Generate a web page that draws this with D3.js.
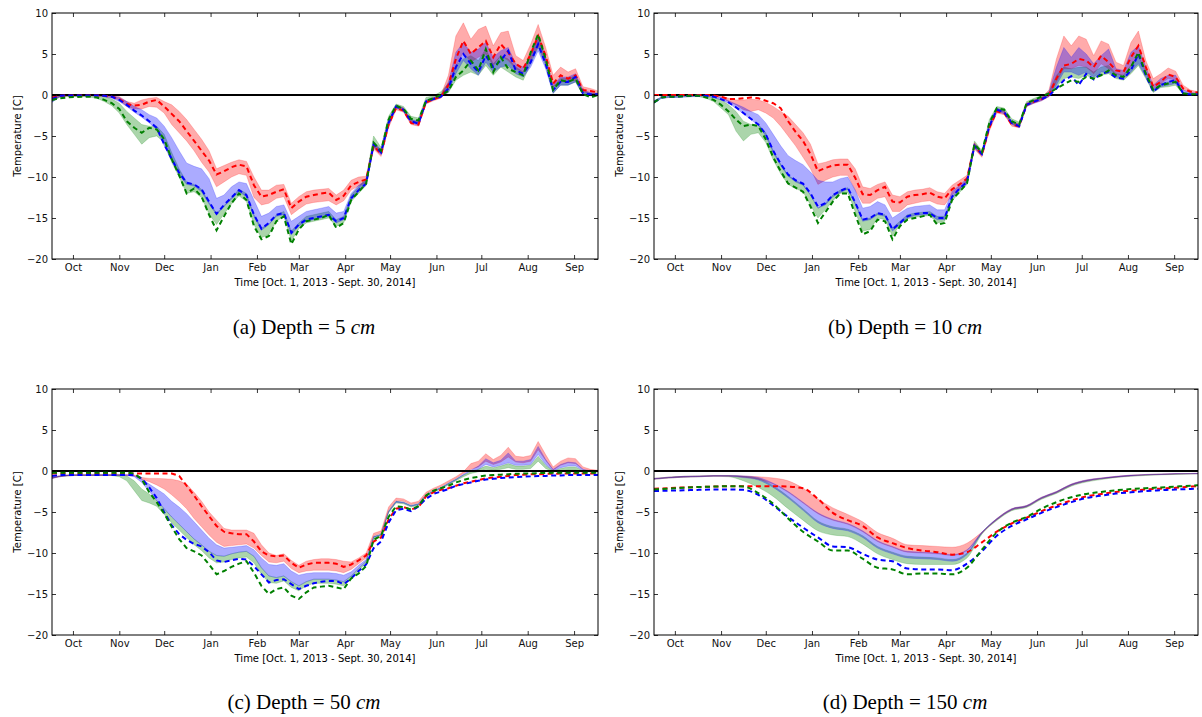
<!DOCTYPE html>
<html>
<head>
<meta charset="utf-8">
<script src="https://cdn.jsdelivr.net/npm/d3@7"></script>
<style>
  body { margin: 0; background: #fff; }
  svg { display: block; }
  .caption { font-family: "Liberation Serif", "Times New Roman", serif; font-size: 21px; white-space: pre; }
  .axisLabel { font-family: "DejaVu Sans", sans-serif; font-size: 10px; }
</style>
</head>
<body>
<svg id="figure" width="1202" height="717"></svg>
<script>
// day offsets from Oct 1, 2013
var days5 = [0,5,10,15,20,25,30,35,40,45,50,55,60,65,70,75,80,85,90,95,100,105,110,115,120,125,130,135,140,145,
  150,155,160,165,170,175,180,185,190,195,200,205,210,215,220,225,230,235,240,245,250,255,260,265,270,275,280,285,290,295,
  300,305,310,315,320,325,330,335,340,345,350,355,360,365];
var days10 = [0,10,20,30,40,50,60,70,80,90,100,110,120,130,140,150,160,170,180,190,200,210,220,230,240,250,260,270,280,290,
  300,310,320,330,340,350,360,365];

var tickMonths = ["Oct","Nov","Dec","Jan","Feb","Mar","Apr","May","Jun","Jul","Aug","Sep"];
var yTicks = [-20, -15, -10, -5, 0, 5, 10];

// ---- depth 5 cm ----
var d5RedDash = [-0.3,-0.1,-0.05,-0.05,-0.05,-0.05,-0.05,-0.1,-0.2,-0.5,
  -1.1,-1.3,-1.2,-0.8,-0.6,-1.4,-2.3,-3.2,-4.4,-5.6,
  -6.8,-8.0,-9.7,-9.3,-8.8,-8.5,-8.7,-11.0,-12.4,-12.2,
  -11.8,-11.5,-13.8,-13.0,-12.4,-12.2,-12.0,-11.9,-12.8,-12.3,
  -11.0,-10.6,-10.3,-6.2,-7.2,-3.6,-1.6,-1.9,-3.4,-3.6,
  -0.9,-0.5,-0.2,1.2,4.4,6.6,5.0,5.8,6.6,4.6,
  6.2,5.2,3.8,3.2,5.0,7.2,4.8,1.4,2.4,2.0,
  2.4,0.6,0.5,0.3];
var d5RedLo = [-0.6,-0.2,-0.1,-0.1,-0.1,-0.1,-0.1,-0.2,-0.3,-0.6,
  -1.4,-1.7,-1.7,-1.4,-1.5,-2.2,-3.6,-4.6,-5.6,-6.8,
  -8.2,-9.4,-11.2,-10.6,-10.0,-9.6,-9.8,-12.5,-13.4,-13.2,
  -12.6,-12.4,-14.6,-13.9,-13.3,-13.1,-13.0,-12.9,-13.4,-12.9,
  -11.6,-11.1,-10.7,-6.6,-7.5,-4.0,-1.8,-2.1,-3.6,-3.8,
  -1.1,-0.7,-0.4,0.6,3.4,5.2,4.0,4.6,5.0,3.6,
  4.8,4.2,3.2,2.8,4.2,6.0,4.0,1.0,1.6,1.6,
  1.8,0.4,0.2,0.1];
var d5RedHi = [-0.1,0,0,0,0,0,0,0,-0.05,-0.2,
  -0.8,-1.0,-0.6,-0.4,-0.3,-0.8,-1.2,-2.0,-3.0,-4.2,
  -5.4,-6.8,-9.0,-8.6,-8.2,-7.9,-8.1,-10.0,-11.6,-11.6,
  -11.0,-10.9,-13.2,-12.4,-11.8,-11.6,-11.5,-11.4,-12.2,-11.6,
  -10.4,-10.0,-9.9,-5.8,-6.8,-3.2,-1.3,-1.6,-3.1,-3.3,
  -0.7,-0.3,0.0,2.4,7.2,8.8,6.8,8.0,8.4,6.0,
  7.6,7.8,4.8,4.2,6.2,8.6,5.8,2.4,3.4,2.8,
  3.2,1.0,0.8,0.5];
var d5BlueDash = [-0.5,-0.1,-0.05,-0.05,-0.05,-0.05,-0.05,-0.1,-0.2,-0.6,
  -1.2,-1.9,-2.5,-3.2,-4.0,-6.0,-7.8,-9.5,-10.7,-10.9,
  -11.5,-13.0,-14.5,-13.4,-12.5,-11.6,-12.2,-14.6,-16.3,-15.6,
  -14.6,-14.4,-16.8,-15.8,-15.2,-15.0,-14.8,-14.6,-15.4,-15.0,
  -12.6,-11.6,-10.8,-6.0,-7.0,-3.4,-1.4,-1.8,-3.2,-3.5,
  -0.8,-0.5,-0.2,0.8,3.4,5.0,3.8,2.8,4.8,3.4,
  4.2,5.4,3.0,2.6,4.0,6.2,3.8,0.6,1.6,1.6,
  2.2,0.2,0.1,0.1];
var d5BlueLo = [-0.9,-0.2,-0.1,-0.1,-0.1,-0.1,-0.1,-0.2,-0.4,-0.8,
  -1.4,-2.1,-2.7,-3.4,-4.2,-6.2,-8.0,-9.7,-10.9,-11.1,
  -11.8,-13.3,-14.6,-13.6,-12.7,-11.8,-12.4,-14.8,-16.5,-15.8,
  -14.8,-14.6,-17.0,-16.0,-15.4,-15.2,-15.0,-14.8,-15.6,-15.2,
  -12.8,-11.8,-11.0,-6.4,-7.3,-3.8,-1.6,-2.0,-3.4,-3.7,
  -1.0,-0.6,-0.3,0.4,2.6,4.2,3.2,2.4,4.0,2.8,
  3.4,3.6,2.6,2.2,3.4,5.4,3.2,0.2,1.2,1.2,
  1.6,0.0,0.0,0.0];
var d5BlueHi = [-0.2,0,0,0,0,0,0,0,-0.1,-0.3,
  -0.8,-1.4,-1.8,-2.4,-2.8,-3.8,-5.2,-6.8,-8.3,-8.7,
  -9.0,-10.2,-12.6,-12.2,-11.2,-10.6,-10.8,-12.8,-14.8,-14.4,
  -13.6,-13.4,-15.4,-14.8,-14.2,-14.0,-13.8,-13.6,-14.4,-14.2,
  -12.0,-11.0,-10.4,-5.7,-6.7,-3.0,-1.2,-1.6,-3.0,-3.2,
  -0.6,-0.3,0.0,1.6,5.2,6.4,5.2,5.6,6.4,4.6,
  5.4,5.8,3.8,3.4,4.8,7.0,4.6,1.2,2.2,2.2,
  2.6,0.6,0.3,0.2];
var d5GreenDash = [-0.6,-0.4,-0.3,-0.25,-0.2,-0.2,-0.3,-0.6,-1.0,-1.7,
  -3.2,-4.0,-4.6,-4.0,-4.2,-5.4,-7.8,-9.8,-12.0,-11.4,
  -12.4,-14.6,-16.5,-14.8,-13.2,-12.0,-12.8,-16.0,-17.6,-17.2,
  -15.4,-14.8,-18.2,-16.4,-15.4,-15.2,-15.0,-14.6,-16.2,-15.6,
  -12.8,-11.8,-10.8,-5.8,-6.8,-3.0,-1.3,-1.7,-2.9,-3.1,
  -0.7,-0.4,0.0,0.5,2.2,3.0,4.2,3.0,5.6,2.8,
  4.6,3.2,2.8,2.4,5.2,7.4,4.4,0.6,1.8,1.6,
  2.0,0.1,-0.3,0.0];
var d5GreenLo = [-0.8,-0.3,-0.2,-0.2,-0.2,-0.25,-0.4,-0.8,-1.3,-2.2,
  -3.6,-4.8,-6.0,-5.2,-5.0,-5.8,-8.2,-10.0,-12.0,-11.8,
  -12.5,-14.5,-15.8,-14.5,-13.3,-12.3,-13.0,-15.8,-17.4,-17.0,
  -15.4,-14.8,-17.8,-16.3,-15.6,-15.4,-15.2,-15.0,-16.0,-15.6,
  -13.0,-12.0,-11.0,-6.3,-7.1,-3.5,-1.5,-1.9,-3.2,-3.4,
  -0.9,-0.6,-0.2,0.3,1.8,2.4,2.8,2.4,3.6,2.4,
  3.4,2.8,2.2,1.8,3.8,5.8,3.6,0.2,1.2,1.2,
  1.6,0.0,-0.1,-0.1];
var d5GreenHi = [-0.2,-0.05,0,0,0,0,-0.1,-0.2,-0.5,-1.0,
  -2.0,-2.8,-3.6,-3.8,-3.8,-4.8,-7.0,-9.0,-10.6,-10.9,
  -11.5,-13.1,-14.4,-13.5,-12.5,-11.5,-12.0,-14.6,-16.2,-15.8,
  -14.6,-14.2,-16.6,-15.6,-14.8,-14.6,-14.4,-14.2,-15.2,-14.8,
  -12.2,-11.2,-10.2,-5.0,-6.4,-2.6,-1.1,-1.4,-2.6,-2.8,
  -0.3,-0.1,0.4,1.4,3.6,4.4,4.8,4.2,5.6,3.8,
  4.8,4.4,3.4,2.8,5.0,7.4,4.6,1.0,2.0,2.0,
  2.4,0.4,0.2,0.2];

// ---- depth 10 cm ----
var d10RedDash = [0,0,0,0,0,0,0,0,-0.05,-0.2,
  -0.5,-0.5,-0.4,-0.3,-0.4,-0.7,-1.0,-1.6,-3.2,-4.5,
  -5.6,-7.2,-9.3,-8.9,-8.6,-8.5,-8.5,-10.1,-12.1,-12.2,
  -11.6,-11.2,-13.0,-13.1,-12.4,-12.2,-12.1,-11.9,-12.4,-12.6,
  -11.5,-10.9,-10.2,-6.2,-7.3,-4.0,-2.0,-2.2,-3.6,-3.8,
  -1.2,-0.8,-0.5,0.0,2.0,3.6,3.8,4.4,4.2,3.4,
  4.8,4.0,3.0,2.8,4.6,6.0,3.4,1.0,1.6,2.5,
  2.2,0.8,0.4,0.3];
var d10RedLo = [-0.1,-0.05,-0.05,-0.05,-0.05,-0.05,-0.05,-0.05,-0.1,-0.3,
  -0.8,-1.2,-1.8,-2.0,-1.8,-2.2,-2.8,-3.8,-5.0,-6.2,
  -7.6,-9.0,-10.9,-10.4,-10.0,-9.8,-9.8,-11.6,-13.2,-13.2,
  -12.6,-12.4,-14.2,-14.2,-13.4,-13.2,-13.0,-12.9,-13.3,-13.4,
  -12.2,-11.4,-10.6,-6.6,-7.6,-4.4,-2.2,-2.4,-3.8,-4.0,
  -1.4,-1.0,-0.7,-0.2,1.6,3.2,3.2,3.6,3.4,2.6,
  3.8,3.2,2.6,2.4,3.6,4.8,2.8,0.8,1.4,2.0,
  1.8,0.6,0.3,0.2];
var d10RedHi = [0,0,0,0,0,0,0,0,0,-0.1,
  -0.4,-0.6,-0.6,-0.5,-0.6,-0.9,-1.4,-2.0,-2.6,-3.6,
  -4.6,-6.0,-8.4,-8.2,-7.9,-7.8,-7.8,-9.0,-11.2,-11.4,
  -10.9,-10.6,-12.2,-12.4,-11.8,-11.6,-11.5,-11.3,-11.8,-12.0,
  -11.0,-10.4,-9.8,-5.8,-7.0,-3.6,-1.7,-1.9,-3.3,-3.5,
  -1.0,-0.6,-0.3,0.6,4.4,7.2,6.0,7.2,6.8,4.8,
  6.6,6.2,4.0,3.6,6.4,7.8,4.2,2.0,2.6,3.3,
  2.9,1.2,0.6,0.4];
var d10BlueDash = [-0.9,-0.3,-0.2,-0.2,-0.15,-0.1,-0.1,-0.1,-0.2,-0.5,
  -0.9,-1.5,-2.2,-2.9,-3.6,-4.8,-6.8,-8.4,-9.7,-10.4,
  -10.8,-12.0,-13.6,-13.2,-12.2,-11.7,-11.3,-13.1,-15.2,-15.0,
  -14.4,-14.6,-16.4,-15.6,-14.8,-14.5,-14.4,-14.4,-15.0,-15.0,
  -12.4,-11.4,-10.6,-6.2,-7.2,-3.8,-1.8,-2.1,-3.4,-3.8,
  -1.2,-0.8,-0.5,-0.1,0.8,1.8,2.3,1.2,2.6,1.9,
  2.6,2.8,2.1,2.0,3.0,5.0,2.4,0.4,1.2,1.6,
  1.8,0.2,0.05,0.05];
var d10BlueLo = [-1.0,-0.4,-0.3,-0.3,-0.25,-0.2,-0.15,-0.15,-0.3,-0.6,
  -1.0,-1.6,-2.3,-3.0,-3.7,-5.0,-7.0,-8.6,-9.9,-10.6,
  -11.0,-12.2,-13.8,-13.4,-12.4,-11.9,-11.5,-13.3,-15.4,-15.2,
  -14.6,-14.8,-16.6,-15.8,-15.0,-14.7,-14.6,-14.6,-15.2,-15.2,
  -12.6,-11.6,-10.8,-6.5,-7.4,-4.1,-2.0,-2.3,-3.6,-4.0,
  -1.4,-1.0,-0.7,-0.2,1.2,2.8,2.8,2.4,2.8,2.2,
  2.8,2.8,2.2,2.0,2.8,3.8,2.2,0.4,1.0,1.2,
  1.4,0.2,0.0,0.0];
var d10BlueHi = [-0.7,-0.25,-0.15,-0.1,-0.05,-0.05,-0.05,-0.05,-0.1,-0.3,
  -0.7,-1.1,-1.5,-2.0,-2.4,-3.4,-4.8,-6.2,-7.4,-8.0,
  -8.5,-9.4,-10.4,-10.6,-10.6,-10.2,-10.0,-11.6,-13.8,-13.6,
  -13.0,-13.4,-15.0,-14.4,-13.8,-13.6,-13.5,-13.4,-14.0,-14.0,
  -11.8,-11.0,-10.2,-5.9,-7.0,-3.5,-1.6,-1.9,-3.2,-3.6,
  -1.0,-0.6,-0.3,0.4,3.4,5.8,4.6,5.8,5.0,3.8,
  4.8,5.6,3.2,3.0,5.2,6.0,3.4,1.2,2.0,2.4,
  2.4,0.6,0.3,0.2];
var d10GreenDash = [-0.9,-0.3,-0.2,-0.2,-0.15,-0.1,-0.1,-0.3,-0.6,-1.2,
  -2.0,-3.0,-3.8,-3.6,-3.8,-5.4,-7.6,-9.3,-10.8,-11.3,
  -11.8,-13.6,-15.6,-14.3,-13.0,-12.0,-12.0,-14.6,-17.0,-16.6,
  -15.2,-15.4,-17.6,-16.0,-15.2,-15.0,-14.8,-14.6,-15.8,-15.6,
  -12.8,-11.8,-10.8,-6.0,-7.0,-3.4,-1.6,-1.8,-3.2,-3.6,
  -1.0,-0.6,-0.2,0.2,0.8,1.3,1.8,1.6,2.2,2.0,
  2.4,3.0,2.4,2.2,3.4,5.2,2.6,0.6,1.2,1.4,
  1.6,0.2,0.1,0.1];
var d10GreenLo = [-1.0,-0.4,-0.3,-0.3,-0.25,-0.2,-0.2,-0.4,-0.8,-1.6,
  -2.4,-4.4,-5.6,-4.8,-4.6,-5.8,-7.9,-9.6,-10.9,-11.4,
  -11.8,-13.4,-15.0,-14.0,-12.9,-12.0,-11.9,-14.2,-16.6,-16.4,
  -15.0,-15.2,-17.2,-15.8,-15.1,-14.9,-14.8,-14.7,-15.6,-15.4,
  -12.9,-11.9,-10.9,-6.4,-7.3,-3.8,-1.9,-2.1,-3.5,-3.9,
  -1.3,-0.9,-0.5,-0.1,1.0,2.0,2.2,2.0,2.4,2.0,
  2.4,2.6,2.0,1.8,2.6,3.6,2.0,0.3,0.9,1.0,
  1.2,0.1,0.0,0.0];
var d10GreenHi = [-0.7,-0.25,-0.15,-0.1,-0.05,-0.05,-0.05,-0.1,-0.3,-0.6,
  -1.2,-2.0,-3.2,-3.6,-3.6,-4.6,-6.8,-8.4,-9.8,-10.4,
  -10.9,-12.2,-13.8,-13.2,-12.2,-11.6,-11.3,-13.2,-15.2,-15.0,
  -14.4,-14.6,-16.2,-15.4,-14.6,-14.4,-14.3,-14.2,-14.8,-14.8,
  -12.4,-11.4,-10.4,-5.6,-6.8,-3.0,-1.4,-1.6,-2.9,-3.3,
  -0.8,-0.4,-0.1,0.3,2.4,3.4,3.2,3.4,3.4,2.8,
  3.4,3.6,2.6,2.4,3.6,4.8,2.8,0.7,1.4,1.6,
  1.8,0.3,0.2,0.1];

// ---- depth 50 cm ----
var d50RedDash = [-0.3,-0.3,-0.3,-0.3,-0.3,-0.3,-0.3,-0.3,-0.3,-0.3,
  -0.3,-0.3,-0.3,-0.3,-0.3,-0.3,-0.3,-0.6,-1.8,-3.0,
  -4.3,-5.5,-6.7,-7.4,-7.6,-7.7,-7.7,-8.6,-9.8,-10.3,
  -10.4,-10.3,-11.2,-11.8,-11.4,-11.2,-11.2,-11.2,-11.3,-11.7,
  -11.4,-10.9,-10.3,-8.6,-8.1,-5.9,-4.6,-4.4,-4.7,-4.4,
  -3.1,-2.6,-2.3,-2.1,-1.8,-1.5,-1.3,-1.1,-0.9,-0.8,
  -0.7,-0.6,-0.5,-0.45,-0.4,-0.4,-0.35,-0.35,-0.3,-0.3,
  -0.3,-0.3,-0.3,-0.3];
var d50RedLo = [-0.9,-0.7,-0.6,-0.55,-0.55,-0.55,-0.55,-0.55,-0.55,-0.55,
  -0.55,-0.6,-1.0,-1.3,-1.7,-2.2,-2.9,-3.7,-4.6,-5.8,
  -6.8,-7.8,-8.7,-9.2,-9.1,-9.0,-8.9,-9.4,-10.3,-11.1,
  -11.2,-11.0,-11.9,-12.4,-12.2,-12.1,-12.1,-12.1,-12.2,-12.4,
  -12.0,-11.3,-10.6,-7.9,-7.6,-4.8,-3.6,-3.7,-4.1,-3.9,
  -2.8,-2.3,-1.9,-1.4,-0.9,-0.3,0.2,0.5,1.2,0.8,
  1.1,1.7,1.1,1.0,1.2,2.6,1.3,0.1,0.7,1.0,
  0.9,0.2,0.05,0.0];
var d50RedHi = [-0.75,-0.6,-0.5,-0.45,-0.45,-0.45,-0.45,-0.45,-0.45,-0.45,
  -0.45,-0.5,-0.8,-0.9,-0.9,-0.95,-1.0,-1.2,-1.6,-2.6,
  -3.7,-5.0,-6.0,-7.0,-7.2,-7.2,-7.2,-7.6,-9.0,-10.0,
  -10.3,-10.1,-10.9,-11.5,-11.0,-10.8,-10.7,-10.7,-10.8,-11.0,
  -11.1,-10.6,-10.0,-7.6,-7.3,-4.4,-3.3,-3.4,-3.9,-3.7,
  -2.6,-2.1,-1.7,-1.2,-0.7,-0.1,0.9,1.2,2.1,1.4,
  1.9,2.9,1.8,1.7,1.9,3.6,2.0,0.5,1.2,1.6,
  1.5,0.5,0.2,0.1];
var d50BlueDash = [-0.6,-0.5,-0.5,-0.5,-0.5,-0.5,-0.5,-0.5,-0.5,-0.5,
  -0.5,-0.5,-0.9,-2.0,-3.3,-5.0,-6.6,-7.7,-8.4,-8.9,
  -9.2,-9.9,-10.9,-11.1,-10.9,-10.7,-10.8,-11.6,-12.6,-13.6,
  -13.3,-13.2,-13.8,-14.4,-14.0,-13.7,-13.5,-13.4,-13.4,-13.8,
  -13.1,-12.2,-11.4,-9.4,-8.6,-6.3,-4.8,-4.6,-4.9,-4.3,
  -3.4,-2.8,-2.5,-2.2,-1.8,-1.6,-1.4,-1.2,-1.05,-0.95,
  -0.85,-0.8,-0.75,-0.7,-0.65,-0.6,-0.6,-0.55,-0.55,-0.5,
  -0.5,-0.5,-0.5,-0.5];
var d50BlueLo = [-0.9,-0.7,-0.6,-0.55,-0.55,-0.55,-0.55,-0.55,-0.55,-0.55,
  -0.55,-0.7,-1.4,-2.5,-3.6,-4.6,-5.6,-6.5,-7.4,-8.3,
  -9.0,-9.8,-10.3,-10.4,-10.1,-9.9,-9.8,-10.4,-11.8,-12.8,
  -13.0,-12.8,-13.5,-14.0,-13.5,-13.2,-13.2,-13.2,-13.3,-13.5,
  -12.8,-11.9,-11.0,-8.1,-7.8,-5.0,-3.8,-3.9,-4.3,-4.1,
  -3.0,-2.5,-2.1,-1.6,-1.1,-0.5,0.0,0.2,0.8,0.5,
  0.7,1.0,0.7,0.7,0.8,2.0,0.8,0.0,0.4,0.6,
  0.6,0.05,0.0,0.0];
var d50BlueHi = [-0.75,-0.6,-0.5,-0.45,-0.45,-0.45,-0.45,-0.45,-0.45,-0.45,
  -0.45,-0.6,-1.0,-1.6,-2.2,-2.8,-3.7,-4.4,-5.2,-6.2,
  -7.2,-8.2,-9.0,-9.4,-9.3,-9.2,-9.1,-9.6,-10.6,-11.4,
  -11.5,-11.3,-12.2,-12.7,-12.5,-12.4,-12.4,-12.4,-12.5,-12.7,
  -12.3,-11.5,-10.8,-8.0,-7.7,-4.9,-3.7,-3.8,-4.2,-4.0,
  -2.9,-2.4,-2.0,-1.5,-1.0,-0.4,0.1,0.6,1.5,1.0,
  1.3,2.2,1.2,1.2,1.4,3.0,1.4,0.2,0.8,1.1,
  1.0,0.2,0.0,0.0];
var d50GreenDash = [-0.2,-0.2,-0.2,-0.2,-0.2,-0.2,-0.2,-0.2,-0.2,-0.2,
  -0.2,-0.3,-1.0,-2.6,-3.8,-5.2,-6.8,-8.3,-9.4,-9.8,
  -10.3,-11.4,-12.6,-12.2,-11.7,-11.3,-11.0,-12.4,-14.0,-15.0,
  -14.4,-14.2,-15.2,-15.6,-14.8,-14.2,-14.1,-14.0,-14.2,-14.4,
  -13.1,-12.5,-11.6,-8.4,-7.9,-5.6,-4.3,-4.4,-4.7,-4.3,
  -3.0,-2.4,-2.1,-1.8,-1.4,-1.1,-0.85,-0.7,-0.55,-0.5,
  -0.45,-0.4,-0.35,-0.3,-0.3,-0.25,-0.25,-0.2,-0.2,-0.2,
  -0.2,-0.2,-0.2,-0.2];
var d50GreenLo = [-0.9,-0.7,-0.6,-0.55,-0.55,-0.55,-0.55,-0.55,-0.55,-0.7,
  -1.2,-2.4,-3.6,-3.9,-4.3,-5.3,-6.3,-7.2,-8.1,-9.0,
  -9.7,-10.6,-11.2,-11.1,-10.8,-10.6,-10.5,-11.2,-12.6,-13.6,
  -13.7,-13.4,-14.2,-14.6,-14.0,-13.7,-13.7,-13.7,-13.8,-14.0,
  -13.2,-12.2,-11.2,-8.3,-7.9,-5.1,-3.9,-4.0,-4.4,-4.2,
  -3.1,-2.6,-2.2,-1.7,-1.2,-0.7,-0.3,-0.1,0.2,0.1,
  0.2,0.4,0.2,0.2,0.3,1.2,0.3,-0.1,0.0,0.1,
  0.1,-0.1,-0.1,-0.1];
var d50GreenHi = [-0.75,-0.6,-0.5,-0.45,-0.45,-0.45,-0.45,-0.45,-0.45,-0.45,
  -0.6,-1.2,-2.2,-2.8,-3.6,-4.6,-5.6,-6.5,-7.4,-8.3,
  -9.0,-9.8,-10.3,-10.4,-10.1,-9.9,-9.8,-10.4,-11.8,-12.8,
  -13.0,-12.8,-13.5,-14.0,-13.5,-13.2,-13.2,-13.2,-13.3,-13.5,
  -12.8,-11.9,-11.0,-8.0,-7.7,-4.9,-3.7,-3.8,-4.2,-4.0,
  -2.9,-2.4,-2.0,-1.5,-1.0,-0.5,-0.1,0.2,0.6,0.4,
  0.6,0.9,0.6,0.6,0.7,1.8,0.7,0.0,0.3,0.5,
  0.5,0.0,0.0,0.0];

// ---- depth 150 cm (10 day steps) ----
var d150RedDash = [-2.15,-2.1,-2.0,-1.95,-1.9,-1.85,-1.85,-1.85,-1.85,-1.9,
  -2.1,-3.4,-5.1,-6.0,-6.7,-8.1,-8.8,-9.4,-9.7,-9.9,
  -10.2,-9.9,-8.7,-7.4,-6.4,-5.7,-4.9,-4.2,-3.6,-3.1,
  -2.8,-2.55,-2.4,-2.25,-2.15,-2.05,-1.9,-1.85];
var d150RedLo = [-1.0,-0.85,-0.75,-0.7,-0.65,-0.65,-0.75,-1.0,-1.6,-2.6,
  -3.9,-5.2,-6.0,-6.5,-7.4,-8.6,-9.3,-9.9,-10.0,-10.1,
  -10.3,-9.7,-7.6,-5.95,-4.75,-4.35,-3.35,-2.65,-1.75,-1.25,
  -0.95,-0.75,-0.6,-0.5,-0.43,-0.38,-0.35,-0.33];
var d150RedHi = [-0.9,-0.75,-0.65,-0.6,-0.55,-0.55,-0.6,-0.7,-0.85,-1.2,
  -2.1,-3.4,-4.5,-5.3,-6.2,-7.5,-8.2,-9.0,-9.1,-9.2,
  -9.3,-8.8,-7.45,-5.8,-4.6,-4.2,-3.2,-2.5,-1.6,-1.1,
  -0.85,-0.65,-0.5,-0.42,-0.36,-0.32,-0.3,-0.28];
var d150BlueDash = [-2.45,-2.4,-2.35,-2.3,-2.25,-2.25,-2.3,-2.9,-4.2,-5.6,
  -6.9,-8.1,-9.2,-9.3,-10.1,-10.8,-11.0,-11.9,-12.0,-12.0,
  -12.1,-11.3,-9.8,-7.9,-6.7,-5.9,-5.1,-4.4,-3.8,-3.3,
  -3.0,-2.75,-2.6,-2.45,-2.35,-2.25,-2.2,-2.15];
var d150BlueLo = [-1.0,-0.85,-0.75,-0.7,-0.65,-0.65,-0.8,-1.1,-2.0,-3.3,
  -4.8,-6.3,-7.0,-7.3,-8.1,-9.4,-10.1,-10.6,-10.7,-10.8,
  -11.0,-10.2,-7.6,-5.95,-4.75,-4.35,-3.35,-2.65,-1.75,-1.25,
  -0.95,-0.75,-0.6,-0.5,-0.43,-0.38,-0.35,-0.33];
var d150BlueHi = [-0.9,-0.75,-0.65,-0.6,-0.55,-0.55,-0.6,-0.8,-1.5,-2.5,
  -3.8,-5.1,-5.9,-6.4,-7.3,-8.5,-9.2,-9.8,-9.9,-10.0,
  -10.2,-9.6,-7.45,-5.8,-4.6,-4.2,-3.2,-2.5,-1.6,-1.1,
  -0.85,-0.65,-0.5,-0.42,-0.36,-0.32,-0.3,-0.28];
var d150GreenDash = [-2.25,-2.15,-2.05,-1.95,-1.9,-1.85,-1.9,-2.7,-4.0,-5.8,
  -7.4,-8.6,-9.7,-9.7,-10.7,-11.8,-12.0,-12.6,-12.5,-12.5,
  -12.6,-11.8,-9.6,-7.5,-6.3,-5.6,-4.6,-3.8,-3.2,-2.8,
  -2.55,-2.35,-2.2,-2.1,-2.0,-1.9,-1.8,-1.75];
var d150GreenLo = [-1.0,-0.85,-0.75,-0.7,-0.65,-0.7,-1.2,-2.0,-3.1,-4.6,
  -6.0,-7.3,-7.8,-8.0,-8.9,-10.1,-10.8,-11.3,-11.4,-11.4,
  -11.4,-10.6,-7.7,-6.05,-4.85,-4.45,-3.45,-2.75,-1.85,-1.35,
  -1.05,-0.8,-0.65,-0.55,-0.47,-0.42,-0.38,-0.36];
var d150GreenHi = [-0.9,-0.75,-0.65,-0.6,-0.55,-0.55,-0.65,-0.9,-1.8,-3.1,
  -4.6,-6.1,-6.8,-7.1,-7.9,-9.2,-9.9,-10.4,-10.5,-10.6,
  -10.8,-10.0,-7.5,-5.85,-4.65,-4.25,-3.25,-2.55,-1.65,-1.15,
  -0.9,-0.7,-0.55,-0.45,-0.38,-0.34,-0.32,-0.3];

var captions = ["(a) Depth = 5 ", "(b) Depth = 10 ", "(c) Depth = 50 ", "(d) Depth = 150 "];

var panels = [
  {id: "a", x0: 52, x1: 598, y0: 13, y1: 259, capY: 334, days: days5, curve: d3.curveLinear,
   red: [d5RedLo, d5RedHi, d5RedDash], blue: [d5BlueLo, d5BlueHi, d5BlueDash], green: [d5GreenLo, d5GreenHi, d5GreenDash]},
  {id: "b", x0: 654, x1: 1198, y0: 13, y1: 259, capY: 334, days: days5, curve: d3.curveLinear,
   red: [d10RedLo, d10RedHi, d10RedDash], blue: [d10BlueLo, d10BlueHi, d10BlueDash], green: [d10GreenLo, d10GreenHi, d10GreenDash]},
  {id: "c", x0: 52, x1: 598, y0: 389, y1: 635, capY: 709, days: days5, curve: d3.curveLinear,
   red: [d50RedLo, d50RedHi, d50RedDash], blue: [d50BlueLo, d50BlueHi, d50BlueDash], green: [d50GreenLo, d50GreenHi, d50GreenDash]},
  {id: "d", x0: 654, x1: 1198, y0: 389, y1: 635, capY: 709, days: days10, curve: d3.curveMonotoneX,
   red: [d150RedLo, d150RedHi, d150RedDash], blue: [d150BlueLo, d150BlueHi, d150BlueDash], green: [d150GreenLo, d150GreenHi, d150GreenDash]}
];

var colors = {red: "#ff0000", blue: "#0000ff", green: "#008000"};
var bandOrder = ["green", "red", "blue"];
var dashOrder = ["red", "blue", "green"];

var svg = d3.select("#figure");
var startDate = new Date(Date.UTC(2013, 9, 1)), endDate = new Date(Date.UTC(2014, 9, 1));
var toDate = function(day) { return new Date(startDate.getTime() + day * 864e5); };
var xTickDates = tickMonths.map(function(m, i) { return new Date(Date.UTC(2013, 9 + i, 15)); });

var drawPanel = function(p, idx) {
  var x = d3.scaleUtc().domain([startDate, endDate]).range([p.x0, p.x1]);
  var y = d3.scaleLinear().domain([-20, 10]).range([p.y1, p.y0]);
  var g = svg.append("g").attr("id", "panel-" + p.id);

  svg.append("clipPath").attr("id", "clip-" + p.id)
    .append("rect")
      .attr("x", p.x0).attr("y", p.y0)
      .attr("width", p.x1 - p.x0).attr("height", p.y1 - p.y0);
  var plot = g.append("g").attr("clip-path", "url(#clip-" + p.id + ")");

  //shaded bands
  bandOrder.forEach(function(name) {
    var s = p[name];
    var area = d3.area()
      .curve(p.curve)
      .x(function(d) { return x(toDate(d)); })
      .y0(function(d, i) { return y(s[0][i]); })
      .y1(function(d, i) { return y(s[1][i]); });
    plot.append("path")
      .datum(p.days)
      .attr("d", area)
      .attr("fill", colors[name])
      .attr("fill-opacity", 0.33)
      .attr("stroke", colors[name])
      .attr("stroke-opacity", 0.25)
      .attr("stroke-width", 0.8);
  });

  plot.append("line")
    .attr("x1", p.x0).attr("x2", p.x1)
    .attr("y1", y(0)).attr("y2", y(0))
    .attr("stroke", "#000").attr("stroke-width", 2);

  //dashed lines
  dashOrder.forEach(function(name) {
    var s = p[name];
    var line = d3.line()
      .curve(p.curve)
      .x(function(d) { return x(toDate(d)); })
      .y(function(d, i) { return y(s[2][i]); });
    plot.append("path")
      .datum(p.days)
      .attr("d", line)
      .attr("fill", "none")
      .attr("stroke", colors[name])
      .attr("stroke-width", 2)
      .attr("stroke-dasharray", "5,3.5");
  });

  var noDomain = function(sel) { sel.select(".domain").remove(); };
  var styleAxis = function(sel) {
    sel.attr("font-family", "DejaVu Sans, sans-serif").attr("font-size", 10);
    sel.selectAll(".tick line").attr("stroke", "#000").attr("stroke-width", 0.8);
    sel.selectAll(".tick text").attr("fill", "#111");
  };

  g.append("g").attr("transform", "translate(0," + p.y1 + ")")
    .call(d3.axisBottom(x).tickValues(xTickDates)
      .tickFormat(function(d, i) { return tickMonths[i]; })
      .tickSize(-4).tickPadding(5))
    .call(noDomain).call(styleAxis);
  g.append("g").attr("transform", "translate(0," + p.y0 + ")")
    .call(d3.axisTop(x).tickValues(xTickDates).tickFormat("").tickSize(-4))
    .call(noDomain).call(styleAxis);
  g.append("g").attr("transform", "translate(" + p.x0 + ",0)")
    .call(d3.axisLeft(y).tickValues(yTicks).tickSize(-4).tickPadding(4))
    .call(noDomain).call(styleAxis);
  g.append("g").attr("transform", "translate(" + p.x1 + ",0)")
    .call(d3.axisRight(y).tickValues(yTicks).tickFormat("").tickSize(-4))
    .call(noDomain).call(styleAxis);

  g.append("rect")
    .attr("x", p.x0).attr("y", p.y0)
    .attr("width", p.x1 - p.x0).attr("height", p.y1 - p.y0)
    .attr("fill", "none").attr("stroke", "#000").attr("stroke-width", 1);

  g.append("text")
    .attr("class", "axisLabel")
    .attr("x", (p.x0 + p.x1) / 2).attr("y", p.y1 + 27)
    .attr("text-anchor", "middle")
    .text("Time [Oct. 1, 2013 - Sept. 30, 2014]");
  g.append("text")
    .attr("class", "axisLabel")
    .attr("transform", "translate(" + (p.x0 - 31) + "," + ((p.y0 + p.y1) / 2) + ") rotate(-90)")
    .attr("text-anchor", "middle")
    .text("Temperature [C]");

  var cap = svg.append("text")
    .attr("class", "caption")
    .attr("x", (p.x0 + p.x1) / 2 - 21).attr("y", p.capY)
    .attr("text-anchor", "middle");
  cap.append("tspan").text(captions[idx]);
  cap.append("tspan").attr("font-style", "italic").text("cm");
};

panels.forEach(drawPanel);
</script>
</body>
</html>
